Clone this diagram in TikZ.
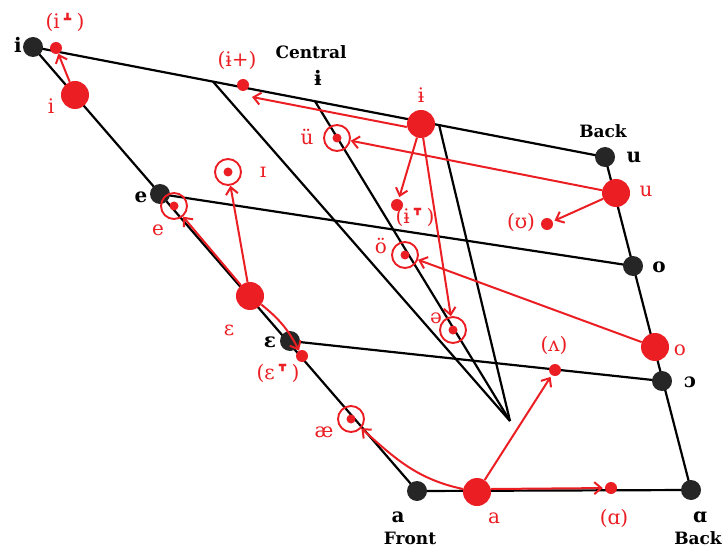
\documentclass[tikz,border=0pt]{standalone}
\usepackage{fontspec}
\setmainfont{DejaVu Serif}
\newfontfamily\ipasans{DejaVu Sans}
\newcommand{\raisedmk}{\scalebox{1.7}{\ipasans ˔}}
\newcommand{\loweredmk}{\scalebox{1.7}{\ipasans ˕}}
\usetikzlibrary{arrows.meta,calc}
\definecolor{vred}{RGB}{235,30,35}
\tikzset{
 axis/.style={line width=2.2pt,black},
 bdot/.style={circle,fill=black!85,minimum size=20pt,inner sep=0},
 rbig/.style={circle,fill=vred,minimum size=28pt,inner sep=0},
 rsmall/.style={circle,fill=vred,minimum size=12pt,inner sep=0},
 rring/.style={circle,draw=vred,line width=1.9pt,minimum size=26pt,inner sep=0},
 rin/.style={circle,fill=vred,minimum size=9pt,inner sep=0},
 rarr/.style={draw=vred,line width=2pt,-{Straight Barb[length=7pt,width=12pt,line width=2pt]}},
 blab/.style={font=\fontsize{17}{17}\selectfont\bfseries,text=black,inner sep=0},
 blet/.style={font=\fontsize{20}{20}\selectfont\bfseries,text=black,inner sep=0},
 rlab/.style={font=\fontsize{20}{20}\selectfont,text=vred,inner sep=0},
}
\begin{document}
\begin{tikzpicture}[x=1pt,y=-1pt]
\useasboundingbox (0,0) rectangle (728,548);
% frame corners
\coordinate (pI) at (33,47);
\coordinate (pE) at (160,194);
\coordinate (pEps) at (290,341);
\coordinate (pA) at (417,491);
\coordinate (pU) at (605,157);
\coordinate (pO) at (633,266);
\coordinate (pOpen) at (662,381);
\coordinate (pAbk) at (691,490);
\coordinate (pV) at (510,421);
\coordinate (pT1) at ($(pI)!0.3147!(pU)$);
\coordinate (pT2) at ($(pI)!0.493!(pU)$);
\coordinate (pT3) at ($(pI)!0.71!(pU)$);
% black lines
\draw[axis,line join=round] (pI) -- (pU) -- (pAbk) -- (pA) -- cycle;
\draw[axis] (pE) -- (pO);
\draw[axis] (pEps) -- (pOpen);
\draw[axis] (pT1) -- (pV);
\draw[axis] (pT2) -- (pV);
\draw[axis] (pT3) -- (pV);
% black dots
\node[bdot] (dI) at (pI) {};
\node[bdot] (dE) at (pE) {};
\node[bdot] (dEps) at (pEps) {};
\node[bdot] (dA) at (pA) {};
\node[bdot] (dU) at (pU) {};
\node[bdot] (dO) at (pO) {};
\node[bdot] (dOpen) at (pOpen) {};
\node[bdot] (dAbk) at (pAbk) {};
% red points
\node[rbig] (rI) at (75,95) {};
\node[rsmall] (iR) at (56,48) {};
\node[rsmall] (barplus) at (243,85) {};
\node[rbig] (bigBar) at (421,124) {};
\node[rbig] (uR) at (616,193) {};
\node[rsmall] (upsilon) at (547,224) {};
\node[rsmall] (barLow) at (397,205) {};
\node[rring] (uUml) at (337,138) {}; \node[rin] (uUmlc) at (uUml) {};
\node[rring] (oUml) at (405,255) {}; \node[rin] (oUmlc) at (oUml) {};
\node[rring] (schwa) at (453,330) {}; \node[rin] (schwac) at (schwa) {};
\node[rring] (eR) at (174,206) {}; \node[rin] (eRc) at (eR) {};
\node[rring] (Iring) at (228,172) {}; \node[rin] (Iringc) at (Iring) {};
\node[rbig] (epsR) at (250,296) {};
\node[rsmall] (epsLow) at (302,356) {};
\node[rring] (ae) at (351,419) {}; \node[rin] (aec) at (ae) {};
\node[rbig] (oR) at (655,347) {};
\node[rbig] (aR) at (477,492) {};
\node[rsmall] (wedge) at (555,370) {};
\node[rsmall] (aBack) at (611,488) {};
% red arrows
\draw[rarr] (rI) -- (iR);
\draw[rarr] ($(bigBar.west)+(0,3)$) -- ($(barplus)+(9,12)$);
\draw[rarr] (uR) -- (uUml);
\draw[rarr,shorten >=2pt] (uR) -- (upsilon);
\draw[rarr,shorten >=2pt] (bigBar) -- (barLow);
\draw[rarr] (bigBar) -- (schwa);
\draw[rarr] (oR) -- (oUml);
\draw[rarr] (epsR) -- (eR);
\draw[rarr] (epsR) -- (Iring);
\draw[rarr] (epsR) to[bend left=12] (epsLow);
\draw[rarr] (aR) to[out=168,in=-42] (ae);
\draw[rarr,shorten >=2pt] (aR) -- (wedge);
\draw[rarr,shorten >=2pt] ($(aR.east)+(0,-3)$) -- (aBack);
% black labels
\node[blet] (lI) at (18,45) {i};
\node[blab] (lCentral) at (311,52) {Central};
\node[blet] (lBar) at (318,78) {ɨ};
\node[blab] (lBackU) at (603,131) {Back};
\node[blet] (lU) at (634,157) {u};
\node[blet] (lE) at (141,197) {e};
\node[blet] (lO) at (659,267) {o};
\node[blet] (lEps) at (270,342) {ɛ};
\node[blet] (lOpen) at (690,382) {ɔ};
\node[blet] (lA) at (398,517) {a};
\node[blab] (lFront) at (410,538) {Front};
\node[blet] (lAbk) at (700,517) {ɑ};
\node[blab] (lBackA) at (698,538) {Back};
% red labels
\node[rlab] (liR) at (65,22) {(i\raisedmk)};
\node[rlab] (lrI) at (51,106) {i};
\node[rlab] (lbarplus) at (237,60) {(ɨ+)};
\node[rlab] (lbigBar) at (421,95) {ɨ};
\node[rlab] (luUml) at (307,137) {ü};
\node[rlab] (luR) at (646,191) {u};
\node[rlab] (lupsilon) at (521,222) {(ʊ)};
\node[rlab] (lbarLow) at (415,217) {(ɨ\loweredmk)};
\node[rlab] (loUml) at (381,246) {ö};
\node[rlab] (lschwa) at (436,318) {ə};
\node[rlab] (leR) at (158,230) {e};
\node[rlab] (lIring) at (263,172) {ɪ};
\node[rlab] (lepsR) at (229,330) {ɛ};
\node[rlab] (lepsLow) at (278,373) {(ɛ\loweredmk)};
\node[rlab] (lae) at (324,432) {æ};
\node[rlab] (loR) at (680,350) {o};
\node[rlab] (lwedge) at (554,345) {(ʌ)};
\node[rlab] (laR) at (494,518) {a};
\node[rlab] (laBack) at (614,518) {(ɑ)};
\end{tikzpicture}
\end{document}
